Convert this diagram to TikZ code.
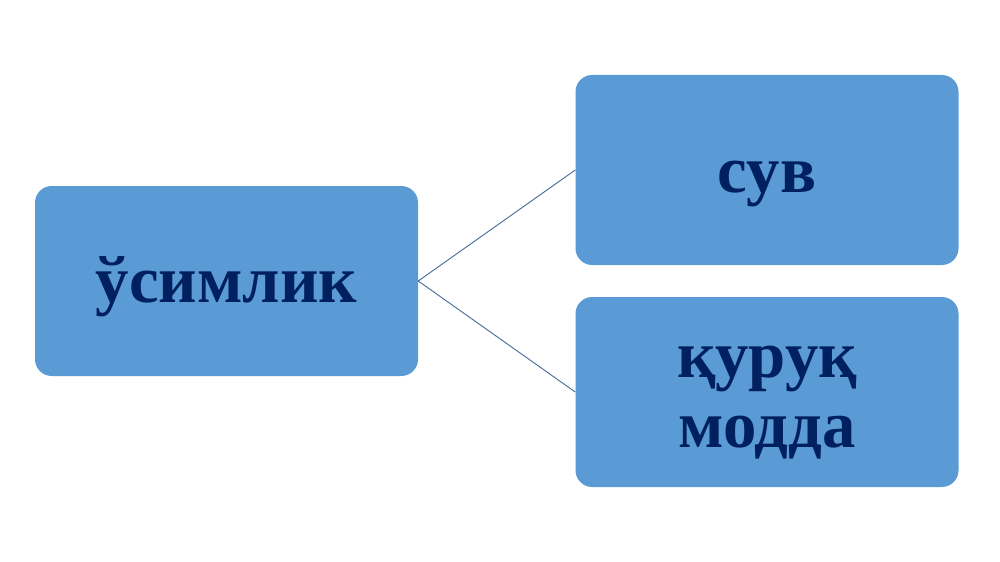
\documentclass[tikz,border=0pt]{standalone}
\usepackage{fontspec}
\setmainfont{Liberation Serif}
\definecolor{boxblue}{HTML}{5B9BD5}
\definecolor{navy}{HTML}{002060}
\definecolor{linkc}{HTML}{4A6C9B}
\begin{document}
\begin{tikzpicture}[x=0.03cm,y=-0.03cm,
  box/.style={fill=boxblue,rounded corners=0.5cm,minimum width=383*0.03cm,minimum height=190*0.03cm,
    inner sep=0pt},
  lbl/.style={inner sep=0pt,align=center,text=navy,font=\fontsize{57}{60}\selectfont\bfseries},
  link/.style={draw=linkc,line width=0.8pt}]
\useasboundingbox (0,0) rectangle (1000,562);
\node[box] (a) at (226.5,281) {};
\node[box] (b) at (767,170) {};
\node[box] (c) at (767,392) {};
\node[lbl,anchor=base] (ta) at (226.5,302) {ўсимлик};
\node[lbl,anchor=base] (tb) at (767,192) {сув};
\node[lbl,anchor=base] (tc) at (767,377) {қуруқ};
\node[lbl,anchor=base] (td) at (767,447) {модда};
\draw[link] (a.east) -- (b.west);
\draw[link] (a.east) -- (c.west);
\end{tikzpicture}
\end{document}
